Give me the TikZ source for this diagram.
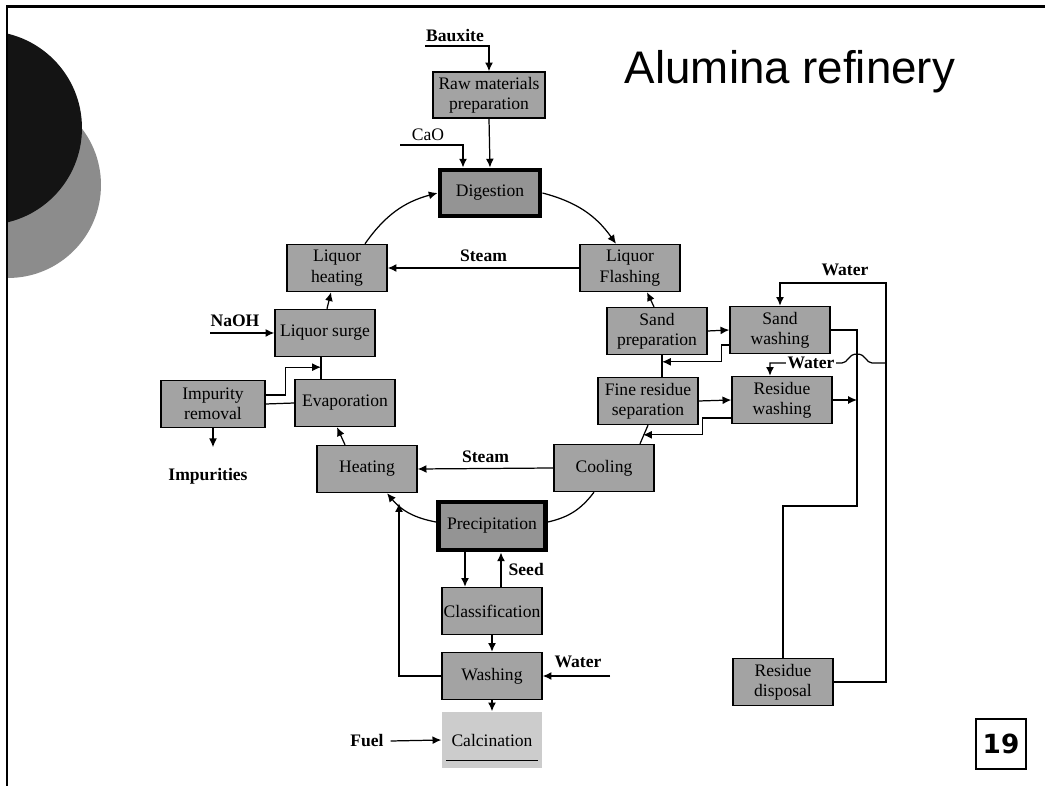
\documentclass[tikz,border=0pt]{standalone}
\usepackage{fontspec}
\setmainfont{Liberation Serif}
\newfontfamily\titlefont{Liberation Sans}
\newfontfamily\pagefont{DejaVu Sans}
\usepackage{tikz}
\usetikzlibrary{calc,positioning,arrows.meta}
\definecolor{boxgray}{gray}{0.64}
\definecolor{hotgray}{gray}{0.58}
\definecolor{calcgray}{gray}{0.8}
\tikzset{%
  font=\fontsize{10}{11.5}\selectfont,>={Latex[length=5pt,width=4.5pt]},
  block/.style = {rectangle, draw, line width=0.8pt, fill=boxgray, minimum width=2cm,
    minimum height=0.94cm, align=center, inner sep=1pt},
  hot/.style   = {block, fill=hotgray, line width=2.8pt},
  lbl/.style   = {inner sep=1pt, font=\fontsize{10}{11.5}\selectfont\bfseries},
  line/.style  = {draw, line width=0.7pt}
}
\begin{document}
\begin{tikzpicture}[x=0.02cm,y=-0.02cm]
  \useasboundingbox (0,0) rectangle (1045,786);
  \fill[white] (0,0) rectangle (1045,786);
  % slide decoration
  \begin{scope}
    \clip (7,7) rectangle (300,786);
    \fill[black!45] (8,185) circle[radius=1.86cm];
    \fill[black!92] (-15,128) circle[radius=1.94cm];
  \end{scope}
  \draw[line width=1.7pt] (7,786) -- (7,7) -- (1045,7);
  \node[font=\titlefont\fontsize{26}{30}\selectfont] (title) at (790,72) {Alumina refinery};
  \node[draw, line width=0.8pt, minimum size=1cm, inner sep=0pt,
    font=\pagefont\bfseries\fontsize{15}{18}\selectfont] (pnum) at (1001,744) {19};

  % process blocks
  \node[block, minimum width=2.24cm, minimum height=0.92cm] (raw) at (489,95) {Raw materials\\preparation};
  \node[hot, minimum height=0.92cm] (dig) at (490,193) {Digestion};
  \node[block] (lh) at (337,268) {Liquor\\heating};
  \node[block] (lf) at (630,268) {Liquor\\Flashing};
  \node[block] (ls) at (325,333) {Liquor surge};
  \node[block] (sp) at (657,331) {Sand\\preparation};
  \node[block] (sw) at (780,330) {Sand\\washing};
  \node[block, minimum width=2.08cm] (imp) at (213,404) {Impurity\\removal};
  \node[block] (evap) at (345,403) {Evaporation};
  \node[block] (frs) at (648,401) {Fine residue\\separation};
  \node[block] (rw) at (782,400) {Residue\\washing};
  \node[block] (heat) at (367,469) {Heating};
  \node[block] (cool) at (604,468) {Cooling};
  \node[hot, minimum width=2.14cm, minimum height=0.96cm] (prec) at (492,526) {Precipitation};
  \node[block] (cls) at (492,611) {Classification};
  \node[block] (wash) at (492,676) {Washing};
  \node[block, draw=none, fill=calcgray, minimum height=1.12cm] (calc) at (492,740) {Calcination};
  \draw[line width=0.6pt] ($(calc.south west)+(5,-8)$) -- ($(calc.south east)+(-5,-8)$);
  \node[block] (rd) at (783,682) {Residue\\disposal};

  % inputs and outputs
  \node[lbl] (bauxite) at (455,36) {Bauxite};
  \node[inner sep=1pt] (cao) at (428,135) {CaO};
  \node[lbl] (naoh) at (235,321) {NaOH};
  \node[lbl] (impur) at (208,476) {Impurities};
  \node[lbl] (fuel) at (367,741) {Fuel};
  \node[lbl] (water3) at (578,662) {Water};
  \node[lbl] (water1) at (845,270) {Water};
  \coordinate (bxin) at (425,46);
  \coordinate (caoin) at (400,145);
  \coordinate (naohin) at (210,333);
  \coordinate (wtrin) at (610,676);
  \coordinate (wtop) at (886,283);
  \coordinate (wjoin) at (886,363);
  \coordinate (rturn) at (857,506);

  \draw[line,->] (bxin) -| (raw.north);
  \draw[line,->] (caoin) -| ($(dig.north)+(-27,0)$);
  \draw[line,->] (raw.south) -- (dig.north);

  % main liquor circuit
  \draw[line,->] ($(lh.north)+(28,0)$) to[bend left=20] (dig.west);
  \draw[line,->] (dig.east) to[bend left=20] ($(lf.north)+(-14,0)$);
  \draw[line,->] (lf.west) -- (lh.east) node[lbl, midway, above=2pt] {Steam};
  \draw[line,->] ($(sp.north)+(-3,0)$) -- ($(lf.south)+(17,0)$);
  \draw[line,->] (sp.east) -- (sw.west);
  \draw[line,->] ($(sw.west)+(0,15)$) -- ++(-8,0) |- ($(frs.north)+(14,-15)$);
  \draw[line] ($(frs.north)+(14,0)$) -- ($(sp.south)+(5,0)$);
  \draw[line,->] (frs.east) -- (rw.west);
  \draw[line,->] ($(rw.west)+(0,18)$) -- ++(-29,0) |- ($(cool.north)+(39,-9)$);
  \draw[line] ($(cool.north)+(36,0)$) -- (frs.south);
  \draw[line,->] (cool.west) -- (heat.east) node[lbl, midway, above=2pt] {Steam};
  \draw[line] ($(cool.south)+(-10,0)$) to[bend left=20] ($(prec.east)+(0,-4)$);
  \draw[line,->] ($(prec.west)+(0,-4)$) to[bend left=20] ($(heat.south)+(20,0)$);
  \draw[line,->] ($(heat.north)+(-22,0)$) -- ($(evap.south)+(-8,0)$);
  \draw[line] ($(evap.north)+(-24,0)$) -- ($(ls.south)+(-4,0)$);
  \draw[line,->] ($(ls.north)+(2,0)$) -- ($(lh.south)+(-6,0)$);
  \draw[line,->] (naohin) -- (ls.west);
  \draw[line] (evap.west) -- (imp.east);
  \draw[line,->] ($(imp.east)+(0,-9)$) -- ++(20,0) |- ($(ls.south)+(-4,10)$);
  \draw[line,->] (imp.south) -- ++(0,19);

  % product side
  \draw[line,->] ($(prec.south)+(-27,0)$) -- ($(cls.north)+(-27,0)$);
  \draw[line,->] ($(cls.north)+(9,0)$) -- ($(prec.south)+(9,0)$) node[lbl, midway, right=3pt] {Seed};
  \draw[line,->] (cls.south) -- (wash.north);
  \draw[line,->] (wtrin) -- (wash.east);
  \draw[line,->] (wash.west) -| ($(heat.south)+(32,10)$);
  \draw[line,->] (wash.south) -- (calc.north);
  \draw[line,->] (fuel.east) ++(5,0) -- (calc.west);

  % residue side
  \draw[line,->] (rd.east) -| (wtop) -| (sw.north);
  \draw[line] (sw.east) -| (rturn) -| (rd.north);
  \draw[line,->] (rw.east) -- (rw.east -| rturn);
  \draw[line,->] (wjoin) -- (872,363) .. controls (866,363) and (866,354) .. (857,354)
    .. controls (848,354) and (848,363) .. (842,363) -| ($(rw.north)+(-12,0)$);
  \node[lbl, fill=white] (water2) at (811,363) {Water};
\end{tikzpicture}
\end{document}
